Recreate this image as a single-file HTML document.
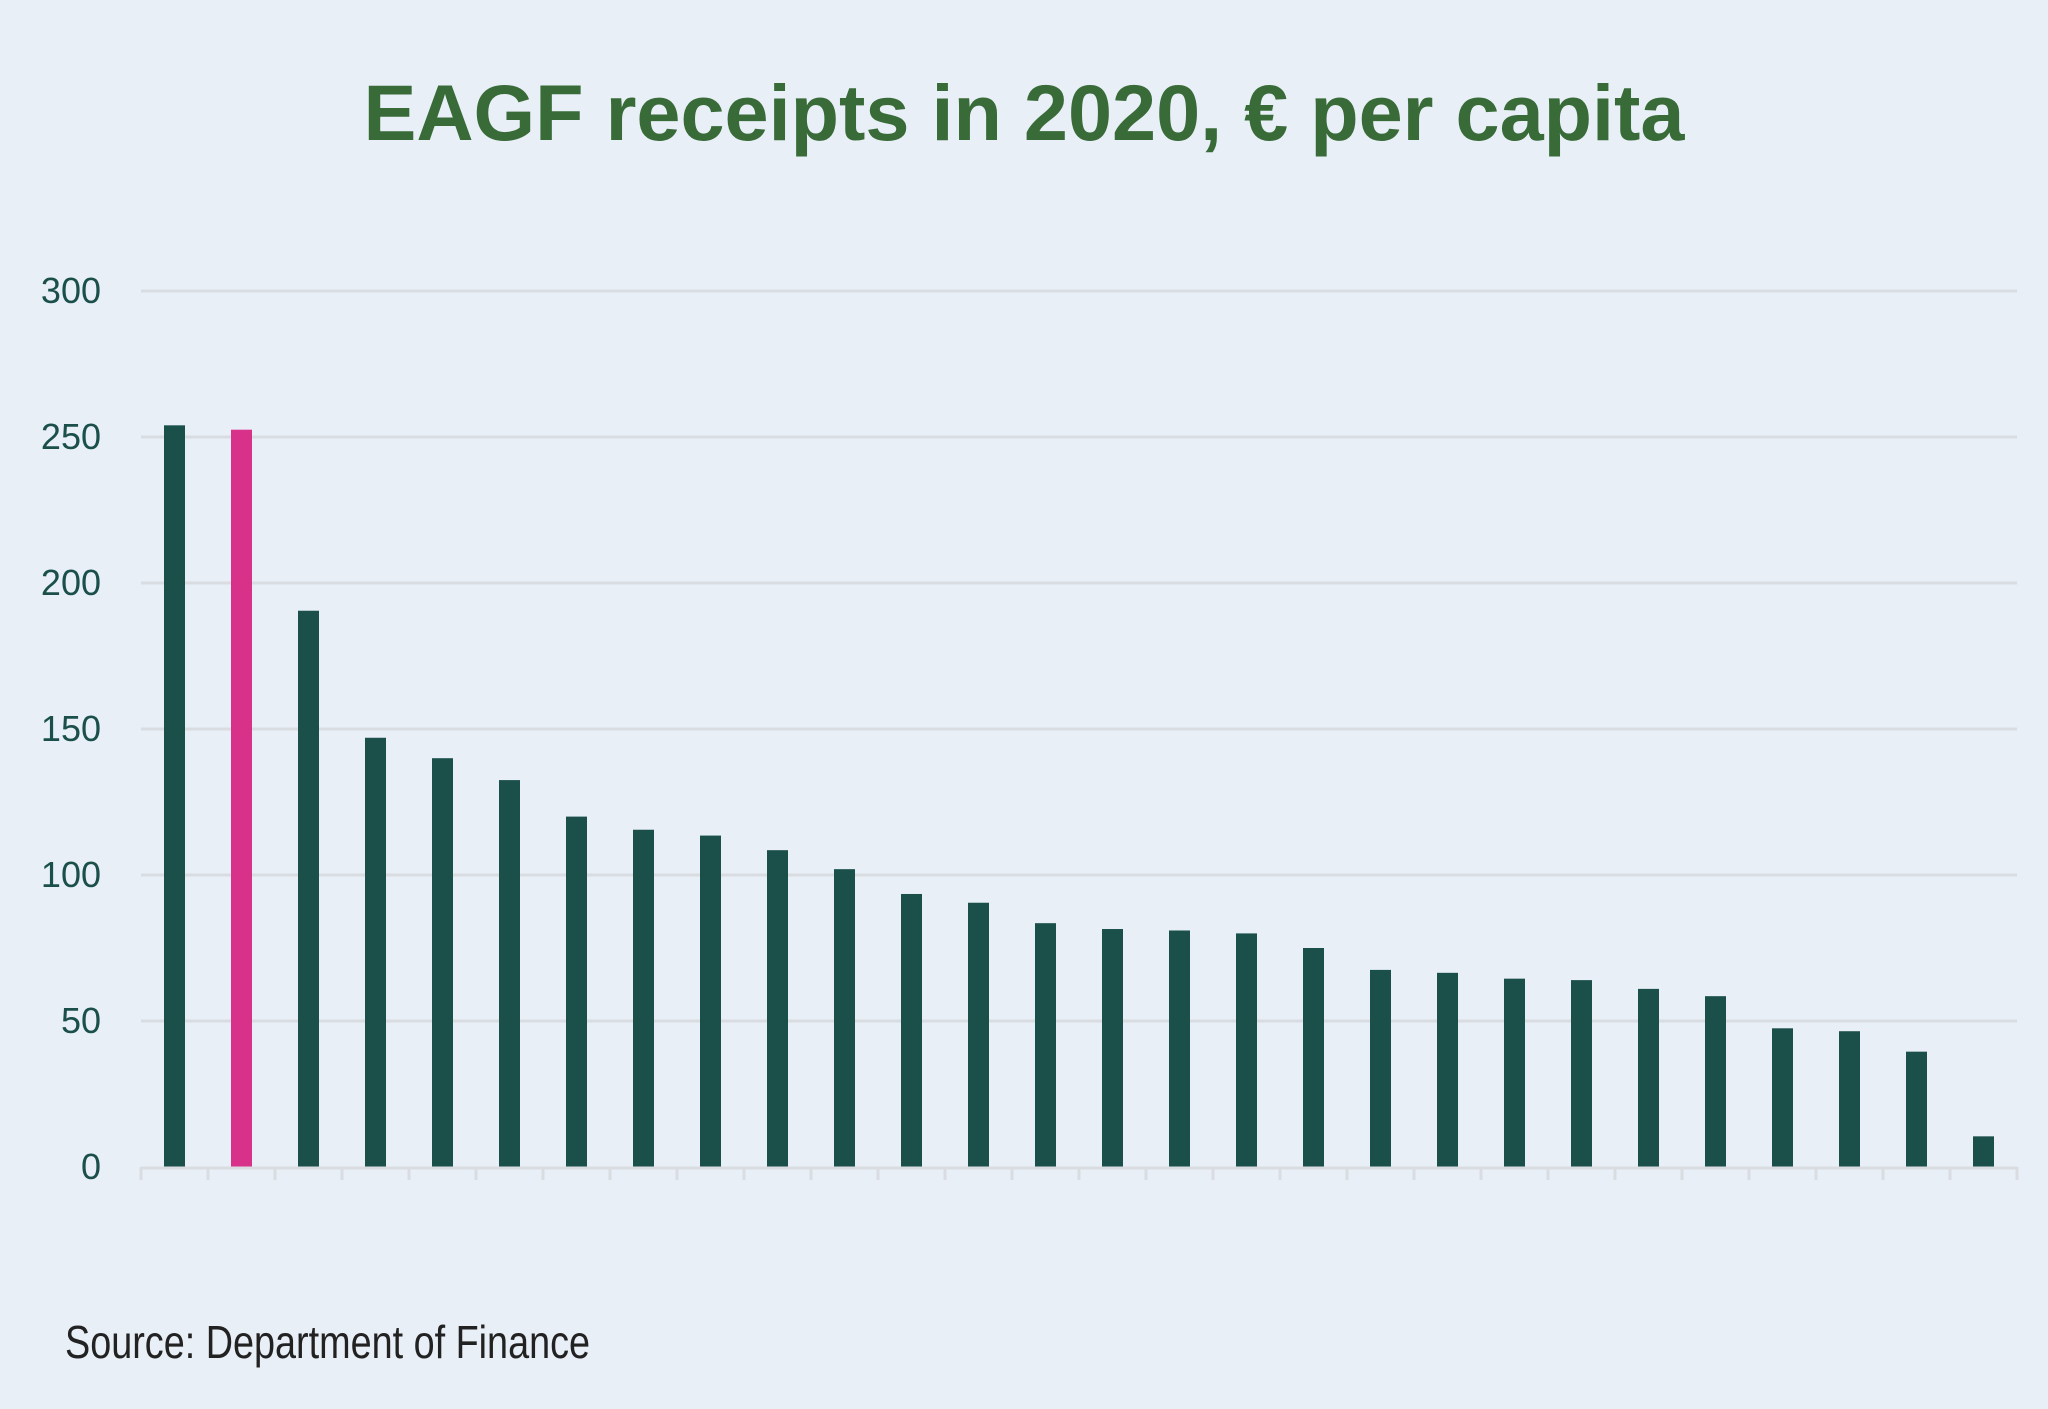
<!DOCTYPE html>
<html><head><meta charset="utf-8"><style>
html,body{margin:0;padding:0;background:#e8eff7;}
svg{display:block}
</style></head><body>
<svg width="2048" height="1409" viewBox="0 0 2048 1409" xmlns="http://www.w3.org/2000/svg">
<rect width="2048" height="1409" fill="#e8eff7"/>
<text x="1024" y="140" text-anchor="middle" font-family="Liberation Sans, sans-serif" font-weight="bold" font-size="79" fill="#386b38" textLength="1321" lengthAdjust="spacingAndGlyphs">EAGF receipts in 2020, € per capita</text>
<g stroke="#d9dde2" stroke-width="3">
<line x1="141" y1="291" x2="2017" y2="291"/>
<line x1="141" y1="437" x2="2017" y2="437"/>
<line x1="141" y1="583" x2="2017" y2="583"/>
<line x1="141" y1="729" x2="2017" y2="729"/>
<line x1="141" y1="875" x2="2017" y2="875"/>
<line x1="141" y1="1021" x2="2017" y2="1021"/>
</g>
<g font-family="Liberation Sans, DejaVu Sans, sans-serif" font-size="36" fill="#1a4f4a" text-anchor="end">
<text x="101" y="303">300</text>
<text x="101" y="449">250</text>
<text x="101" y="595">200</text>
<text x="101" y="741">150</text>
<text x="101" y="887">100</text>
<text x="101" y="1033">50</text>
<text x="101" y="1179">0</text>
</g>
<g id="bars" fill="#1a4f4a"></g>
<g id="ticks" stroke="#d9dde2" stroke-width="3"></g>
<text x="65" y="1358" font-family="Liberation Sans, sans-serif" font-size="46" fill="#222" textLength="525" lengthAdjust="spacingAndGlyphs">Source: Department of Finance</text>
<script>
var v=[254,252.5,190.5,147,140,132.5,120,115.5,113.5,108.5,102,93.5,90.5,83.5,81.5,81,80,75,67.5,66.5,64.5,64,61,58.5,47.5,46.5,39.5,10.5];
var ns="http://www.w3.org/2000/svg",b=document.getElementById("bars"),t=document.getElementById("ticks");
v.forEach(function(d,i){var r=document.createElementNS(ns,"rect");var c=174.5+67*i;var h=d*2.92;
r.setAttribute("x",c-10.5);r.setAttribute("y",1167-h);r.setAttribute("width",21);r.setAttribute("height",h);
if(i==1)r.setAttribute("fill","#d8318a");b.appendChild(r);});
var l=document.createElementNS(ns,"line");l.setAttribute("x1",141);l.setAttribute("x2",2017);l.setAttribute("y1",1168);l.setAttribute("y2",1168);t.appendChild(l);
for(var i=0;i<=28;i++){var k=document.createElementNS(ns,"line");var x=141+67*i;k.setAttribute("x1",x);k.setAttribute("x2",x);k.setAttribute("y1",1167);k.setAttribute("y2",1180);t.appendChild(k);}
</script>
</svg>
</body></html>
